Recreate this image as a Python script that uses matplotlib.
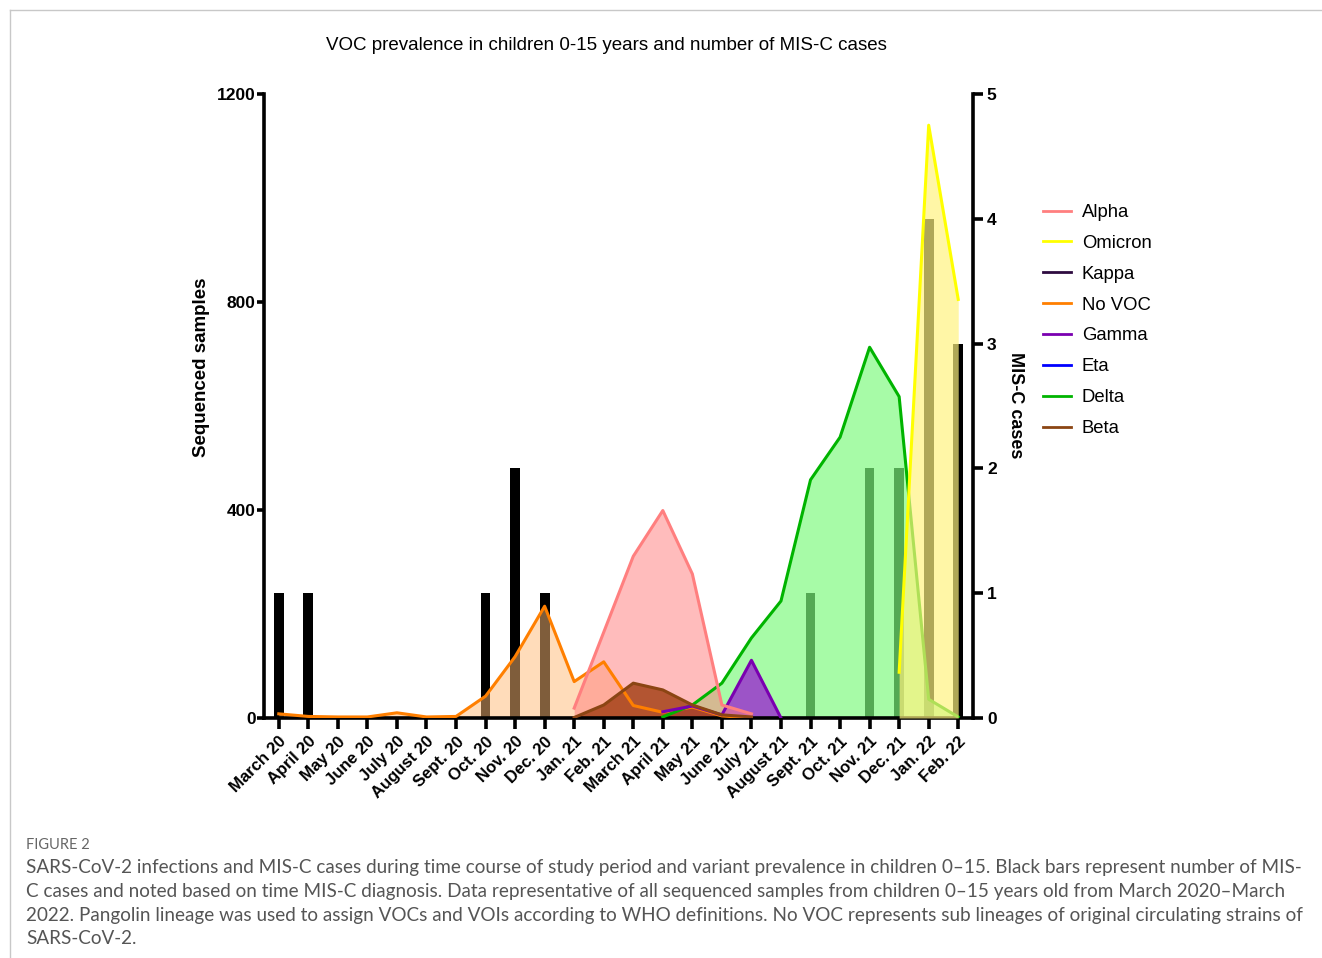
import numpy as np
import matplotlib
matplotlib.use('Agg')
import matplotlib.pyplot as plt
from matplotlib.lines import Line2D

plt.rcParams['font.family'] = ['Liberation Sans', 'DejaVu Sans']

# Bulan pengamatan
months = ['March 20', 'April 20', 'May 20', 'June 20', 'July 20', 'August 20',
          'Sept. 20', 'Oct. 20', 'Nov. 20', 'Dec. 20', 'Jan. 21', 'Feb. 21',
          'March 21', 'April 21', 'May 21', 'June 21', 'July 21', 'August 21',
          'Sept. 21', 'Oct. 21', 'Nov. 21', 'Dec. 21', 'Jan. 22', 'Feb. 22']

N = None
# Jumlah sampel tersekuensing per varian
no_voc = [8, 3, 2, 2, 10, 2, 3, 42, 118, 215, 70, 108, 24, 11, 21, 4, 0] + [N] * 7
alpha = [N] * 10 + [19, 165, 311, 399, 277, 25, 8] + [N] * 7
beta = [N] * 10 + [1, 25, 67, 54, 25, 6, 2] + [N] * 7
kappa = [N] * 13 + [1, 2, 1, 0] + [N] * 7
eta = [N] * 13 + [1, 2, 1] + [N] * 8
gamma = [N] * 13 + [12, 23, 6, 111, 0] + [N] * 6
delta = [N] * 13 + [2, 25, 67, 154, 225, 458, 540, 713, 618, 36, 2]
omicron = [N] * 21 + [88, 1140, 805]

# Jumlah kasus MIS-C
misc_cases = [1, 1, 0, 0, 0, 0, 0, 1, 2, 1, 0, 0, 0, 0, 0, 0, 0, 0, 1, 0, 2, 2, 4, 3]

caption_lines = [
    'SARS-CoV-2 infections and MIS-C cases during time course of study period and variant prevalence in children 0\u201315. Black bars represent number of MIS-',
    'C cases and noted based on time MIS-C diagnosis. Data representative of all sequenced samples from children 0\u201315 years old from March 2020\u2013March',
    '2022. Pangolin lineage was used to assign VOCs and VOIs according to WHO definitions. No VOC represents sub lineages of original circulating strains of',
    'SARS-CoV-2.',
]

fig = plt.figure(figsize=(13.22, 9.58), dpi=100)
ax = fig.add_axes([264 / 1322, 1 - 718 / 958, (973 - 264) / 1322, (718 - 94) / 958])
ax2 = ax.twinx()
ax.set_zorder(ax2.get_zorder() + 1)
ax.patch.set_visible(False)

x = np.arange(len(months))

# Bar MIS-C di sumbu kanan
ax2.bar(x, misc_cases, width=0.33, color='black', zorder=1)
ax2.set_ylim(0, 5)
ax2.set_yticks(range(6))


def area(vals, line_c, fill_c, fill_a, z, line_z=3):
    v = np.array([np.nan if a is None else a for a in vals], dtype=float)
    m = ~np.isnan(v)
    ax.fill_between(x[m], v[m], 0, color=fill_c, alpha=fill_a, lw=0, zorder=z)
    ax.plot(x[m], v[m], color=line_c, lw=2.2, zorder=line_z)


area(no_voc, '#ff7f00', '#ffbb77', 0.5, 2)
area(delta, '#00b400', '#7dfa7d', 0.68, 2.1)
area(gamma, '#7a00b0', '#9a2ad0', 0.8, 2.2)
area(kappa, '#2e0b40', '#2e0b40', 0.3, 2.05, line_z=2.05)
area(eta, '#0000ff', '#0000ff', 0.3, 2.06, line_z=2.06)
area(alpha, '#ff7f7f', '#ff8080', 0.52, 2.3)
area(beta, '#8b4513', '#a03c10', 0.8, 2.4)
area(omicron, '#ffff00', '#fff37f', 0.69, 3.5, line_z=4)

ax.set_xlim(-0.5, 23.5)
ax.set_ylim(0, 1200)
ax.set_yticks([0, 400, 800, 1200])
ax.set_xticks(x)
ax.set_xticklabels(months, rotation=45, ha='right', rotation_mode='anchor',
                   fontsize=12, fontweight='bold')

for a in (ax, ax2):
    for s in a.spines.values():
        s.set_linewidth(2.6)
    a.spines['top'].set_visible(False)
ax.spines['right'].set_visible(False)
ax2.spines['left'].set_visible(False)
ax2.spines['bottom'].set_visible(False)
ax.tick_params(axis='x', width=2.6, length=8, labelsize=12)
ax.tick_params(axis='y', width=2.6, length=5, pad=1, labelsize=12.5)
ax2.tick_params(axis='y', width=2.6, length=7, pad=3, labelsize=12.5)
for lab in ax.get_yticklabels() + ax2.get_yticklabels():
    lab.set_fontweight('bold')

ax.set_ylabel('Sequenced samples', fontsize=13.5, fontweight='bold')
ax.yaxis.set_label_coords((210 - 264) / 709, (718 - 367) / 624)
ax2.set_ylabel('MIS-C cases', fontsize=13, fontweight='bold', rotation=270)
ax2.yaxis.set_label_coords((1024 - 264) / 709, (718 - 405) / 624)

fig.text(606 / 1322, 1 - 46 / 958, 'VOC prevalence in children 0-15 years and number of MIS-C cases',
         ha='center', va='center', fontsize=13.5)

# Legenda
handles = [Line2D([], [], color=c, lw=2) for c in
           ['#ff7f7f', '#ffff00', '#2e0b40', '#ff7f00', '#7a00b0', '#0000ff', '#00b400', '#8b4513']]
labels = ['Alpha', 'Omicron', 'Kappa', 'No VOC', 'Gamma', 'Eta', 'Delta', 'Beta']
fig.legend(handles, labels, loc='upper left', bbox_to_anchor=(1043 / 1322, 1 - 204 / 958),
           frameon=False, fontsize=13.3, handlelength=1.5, handletextpad=0.6,
           labelspacing=0.75, borderpad=0, borderaxespad=0)

# Bingkai dan keterangan gambar
fig.add_artist(Line2D([10 / 1322, 1], [1 - 10 / 958, 1 - 10 / 958], color='#c8c8c8', lw=1))
fig.add_artist(Line2D([10 / 1322, 10 / 1322], [0, 1 - 10 / 958], color='#c8c8c8', lw=1))
fig.text(26 / 1322, 1 - 845 / 958, 'FIGURE 2', fontsize=10.5, color='#666666',
         family=['Lato', 'DejaVu Sans'], va='center')
for i, line in enumerate(caption_lines):
    fig.text(26 / 1322, 1 - (867 + 24 * i) / 958, line, fontsize=13.6, color='#555555',
             family=['Lato', 'DejaVu Sans'], va='center')

fig.savefig('out.png', dpi=100)
plt.close(fig)
